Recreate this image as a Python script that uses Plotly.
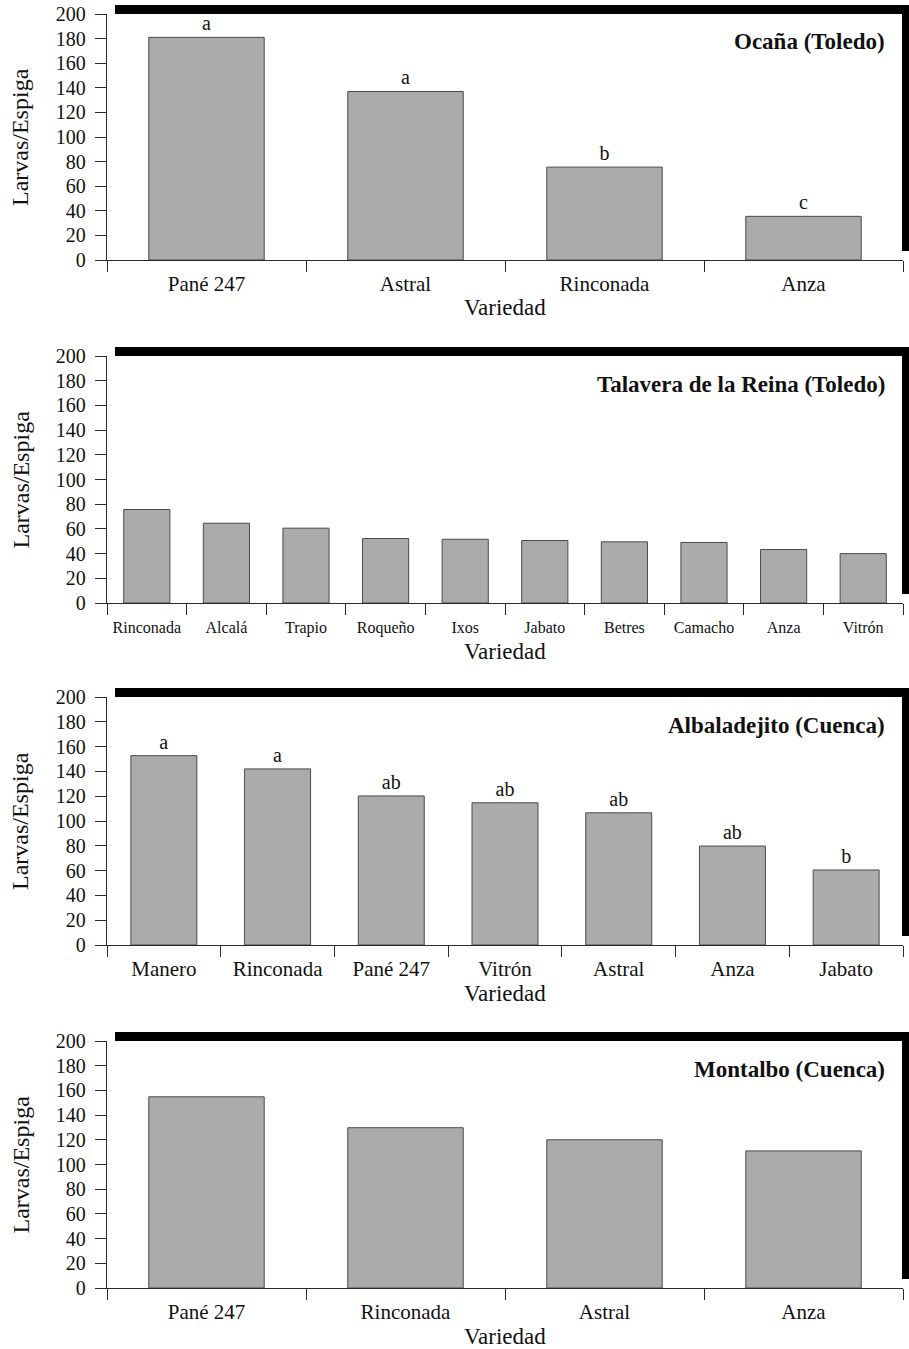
import plotly.graph_objects as go

# Larvae per spike by wheat variety at four sites
sitio_1 = "Ocaña (Toledo)"
var_1 = ["Pané 247", "Astral", "Rinconada", "Anza"]
larvas_1 = [181, 137, 75.5, 35.5]
letras_1 = ["a", "a", "b", "c"]

sitio_2 = "Talavera de la Reina (Toledo)"
var_2 = ["Rinconada", "Alcalá", "Trapio", "Roqueño", "Ixos",
         "Jabato", "Betres", "Camacho", "Anza", "Vitrón"]
larvas_2 = [75.7, 64.6, 60.6, 52.2, 51.6, 50.6, 49.5, 49, 43.3, 40]

sitio_3 = "Albaladejito (Cuenca)"
var_3 = ["Manero", "Rinconada", "Pané 247", "Vitrón", "Astral", "Anza", "Jabato"]
larvas_3 = [152.7, 142, 120.2, 114.7, 106.6, 79.8, 60.5]
letras_3 = ["a", "a", "ab", "ab", "ab", "ab", "b"]

sitio_4 = "Montalbo (Cuenca)"
var_4 = ["Pané 247", "Rinconada", "Astral", "Anza"]
larvas_4 = [154.8, 129.8, 120, 111]

y_ticks = list(range(0, 201, 20))

W, H = 909, 1349
FONT = "Liberation Serif"
INK = "#2b2b2b"
BAR = "#ababab"

# pixel geometry of each panel: (top of plot, bottom of plot)
x_left, x_right = 107, 903
panels = [
    # title, categories, values, letters, (top, bottom), tick font size, tick label standoff
    (sitio_1, var_1, larvas_1, letras_1, (14, 260), 21, 5),
    (sitio_2, var_2, larvas_2, None, (356, 603), 16, 10),
    (sitio_3, var_3, larvas_3, letras_3, (697, 945), 21, 5),
    (sitio_4, var_4, larvas_4, None, (1041, 1288), 21, 5),
]

fig = go.Figure()
layout = dict(
    width=W, height=H, margin=dict(l=0, r=0, t=0, b=0),
    paper_bgcolor="white", plot_bgcolor="white",
    showlegend=False, font=dict(family=FONT, color="#111"),
    annotations=[], shapes=[],
)

for i, (sitio, cats, vals, letras, (top, bot), tfs, tso) in enumerate(panels, start=1):
    sfx = "" if i == 1 else str(i)
    fig.add_trace(go.Bar(
        x=cats, y=vals,
        xaxis="x" + sfx, yaxis="y" + sfx,
        marker=dict(color=BAR, line=dict(color="#4a4a4a", width=1)),
        text=letras if letras else None,
        textposition="outside" if letras else "none",
        textfont=dict(family=FONT, size=20, color="#111"),
        cliponaxis=False,
        width=0.58,
        hoverinfo="x+y",
    ))
    dom_y = [1 - bot / H, 1 - top / H]
    layout["xaxis" + sfx] = dict(
        domain=[x_left / W, x_right / W], anchor="y" + sfx,
        type="category", range=[-0.5, len(cats) - 0.5],
        showline=True, linecolor=INK, linewidth=1.3,
        ticks="outside", tickson="boundaries", ticklen=11, tickwidth=1.3,
        tickcolor=INK, showgrid=False, zeroline=False,
        ticklabelstandoff=tso,
        tickfont=dict(family=FONT, size=tfs, color="#111"),
        automargin=False, fixedrange=True,
    )
    layout["yaxis" + sfx] = dict(
        domain=dom_y, anchor="x" + sfx, range=[0, 200],
        tickvals=y_ticks, ticktext=[str(v) for v in y_ticks],
        showline=True, linecolor=INK, linewidth=1.3,
        ticks="outside", ticklen=11, tickwidth=1.3, tickcolor=INK,
        ticklabelstandoff=5,
        showgrid=False, zeroline=False,
        tickfont=dict(family=FONT, size=20, color="#111"),
        automargin=False, fixedrange=True,
    )
    xr, yr = "x" + sfx + " domain", "y" + sfx + " domain"
    ph = bot - top
    pw = x_right - x_left
    # heavy shadow frame on top and right
    layout["shapes"].append(dict(
        type="rect", xref=xr, yref=yr,
        x0=(115 - x_left) / pw, x1=(W - x_left) / pw,
        y0=1.0, y1=1 + 9 / ph,
        fillcolor="black", line=dict(width=0),
    ))
    layout["shapes"].append(dict(
        type="rect", xref=xr, yref=yr,
        x0=(902 - x_left) / pw, x1=(W - x_left) / pw,
        y0=9 / ph, y1=1 + 9 / ph,
        fillcolor="black", line=dict(width=0),
    ))
    # site name
    layout["annotations"].append(dict(
        text="<b>" + sitio + "</b>", xref="paper", yref="paper",
        x=887 / W, y=1 - (top + 28) / H, xanchor="right", yanchor="middle",
        showarrow=False, font=dict(family=FONT, size=23, color="#111"),
    ))
    # axis titles
    layout["annotations"].append(dict(
        text="Variedad", xref="paper", yref="paper",
        x=(x_left + x_right) / 2 / W, y=1 - (bot + 48) / H,
        xanchor="center", yanchor="middle", showarrow=False,
        font=dict(family=FONT, size=23, color="#111"),
    ))
    layout["annotations"].append(dict(
        text="Larvas/Espiga", xref="paper", yref="paper",
        x=20 / W, y=1 - (top + bot) / 2 / H, textangle=-90,
        xanchor="center", yanchor="middle", showarrow=False,
        font=dict(family=FONT, size=24, color="#111"),
    ))

fig.update_layout(**layout)
fig.write_html("out.html")
